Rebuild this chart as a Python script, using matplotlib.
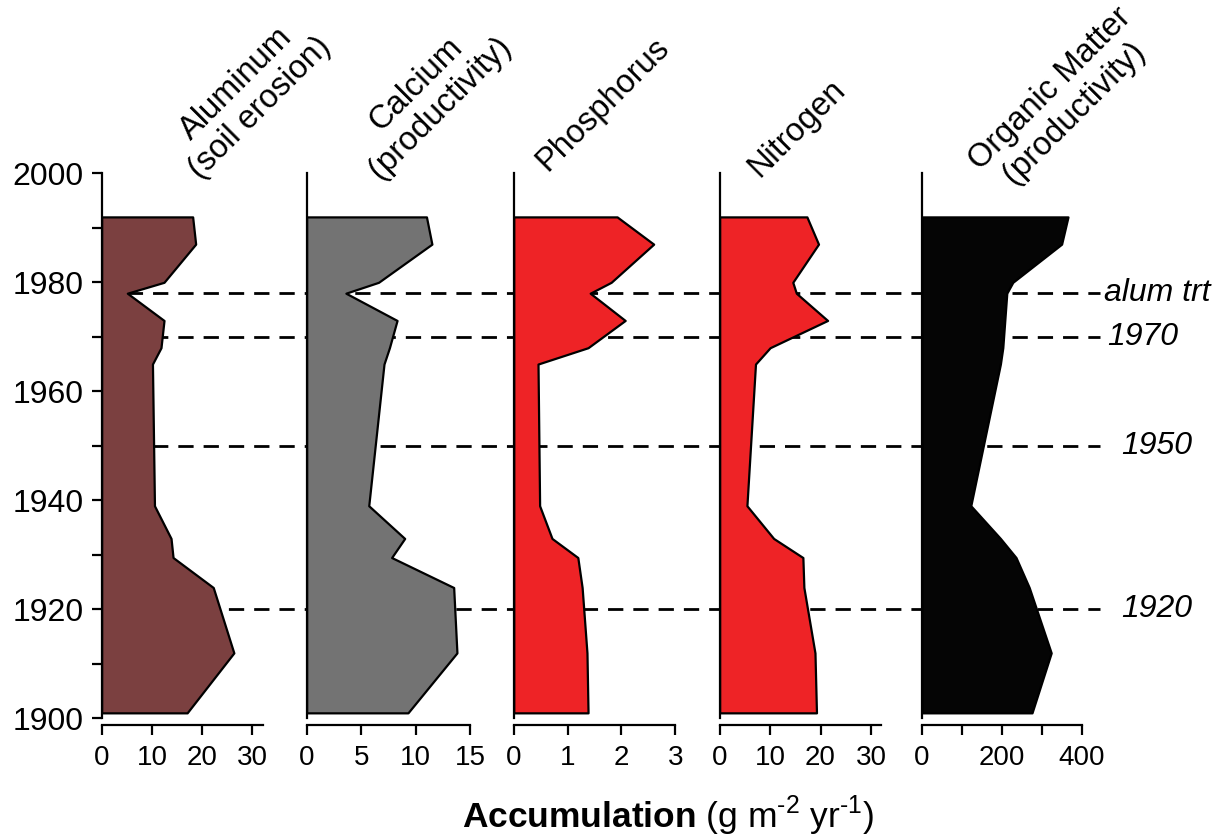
import numpy as np
import matplotlib
matplotlib.use("Agg")
import matplotlib.pyplot as plt
from matplotlib.ticker import MultipleLocator, FixedLocator
import matplotlib.transforms as mtransforms

plt.rcParams['font.family'] = ['Liberation Sans', 'DejaVu Sans']
plt.rcParams['mathtext.fontset'] = 'custom'
plt.rcParams['mathtext.rm'] = 'Liberation Sans'
plt.rcParams['mathtext.bf'] = 'Liberation Sans:bold'

# sediment core years (top of core to bottom)
years = [1992, 1987, 1980, 1978, 1973, 1968, 1965, 1939, 1933, 1929.5, 1924, 1912, 1901]

aluminum = [18.1, 18.7, 12.4, 5.1, 12.4, 11.8, 10.1, 10.5, 13.8, 14.2, 22.2, 26.3, 17.0]
calcium = [11.0, 11.5, 6.6, 3.6, 8.3, 7.6, 7.1, 5.7, 9.0, 7.8, 13.5, 13.8, 9.3]
phosphorus = [1.92, 2.60, 1.81, 1.42, 2.07, 1.38, 0.45, 0.48, 0.71, 1.19, 1.27, 1.36, 1.38]
nitrogen = [17.3, 19.6, 14.5, 15.2, 21.4, 10.0, 7.1, 5.4, 10.7, 16.5, 16.7, 18.9, 19.2]
organic = [365, 349, 227, 212, 207, 202, 196, 122, 196, 235, 268, 323, 275]

titles = ["Aluminum\n(soil erosion)", "Calcium\n(productivity)", "Phosphorus",
          "Nitrogen", "Organic Matter\n(productivity)"]
colors = ["#7b4040", "#737373", "#ee2326", "#ee2326", "#050505"]
series = [aluminum, calcium, phosphorus, nitrogen, organic]
xmax = [32.1, 15, 3, 32, 400]
xticks = [[0, 10, 20, 30], [0, 5, 10, 15], [0, 1, 2, 3], [0, 10, 20, 30], [0, 200, 400]]

event_years = [1978, 1970, 1950, 1920]
event_labels = ["alum trt", "1970", "1950", "1920"]

W, H = 1215, 839
fig = plt.figure(figsize=(W / 100, H / 100), dpi=100)

# panel positions in pixels (left, right)
panel_px = [(101.7, 263), (306.7, 470), (513.8, 675.2), (719.7, 881), (922, 1082)]
title_px = [(248, 96), (428, 96), (603, 105), (797, 128), (1062, 101)]
bottom, top = 718.3, 173.3

axes = []
for i, (l, r) in enumerate(panel_px):
    ax = fig.add_axes([l / W, 1 - bottom / H, (r - l) / W, (bottom - top) / H])
    ax.set_facecolor('none')
    ax.fill_betweenx(years, 0, series[i], facecolor=colors[i], edgecolor='black', lw=1.6, zorder=3)
    ax.set_xlim(0, xmax[i])
    ax.set_ylim(1900, 2000)
    for s in ['top', 'right']:
        ax.spines[s].set_visible(False)
    ax.spines['left'].set_linewidth(1.6)
    ax.spines['bottom'].set_linewidth(1.6)
    ax.spines['bottom'].set_position(('outward', 4.5))
    ax.set_xticks(xticks[i])
    if i == 4:
        ax.xaxis.set_minor_locator(FixedLocator([100, 300]))
    ax.tick_params(axis='x', which='both', direction='out', length=7.5, width=1.6,
                   labelsize=20, pad=7)
    if i == 0:
        ax.set_yticks([1900, 1920, 1940, 1960, 1980, 2000])
        ax.yaxis.set_minor_locator(MultipleLocator(10))
        ax.tick_params(axis='y', which='both', direction='out', length=7, width=1.6,
                       labelsize=23, pad=6)
    else:
        ax.set_yticks([])
    axes.append(ax)
    fig.text(title_px[i][0] / W, 1 - title_px[i][1] / H, titles[i], rotation=45,
             rotation_mode='anchor', ha='center', va='center', multialignment='center',
             fontsize=23.5, linespacing=1.1)

# dashed reference lines behind the fills
trans = mtransforms.blended_transform_factory(fig.transFigure, axes[0].transData)
label_x = [1104, 1107, 1121, 1121]
for yr, lab, lx in zip(event_years, event_labels, label_x):
    fig.add_artist(plt.Line2D([101.7 / W, 1100 / W], [yr, yr], transform=trans,
                              color='black', lw=2.0, linestyle=(0, (5.5, 3.6)), zorder=-1))
    fig.text(lx / W, yr, lab, transform=trans, ha='left', va='center',
             fontsize=23, style='italic')

fig.text(668 / W, 1 - 816 / H,
         r"$\mathbf{Accumulation}$ (g m$^{\text{-}2}$ yr$^{\text{-}1}$)",
         ha='center', va='center', fontsize=25.5)

fig.savefig("out.png", dpi=100)
